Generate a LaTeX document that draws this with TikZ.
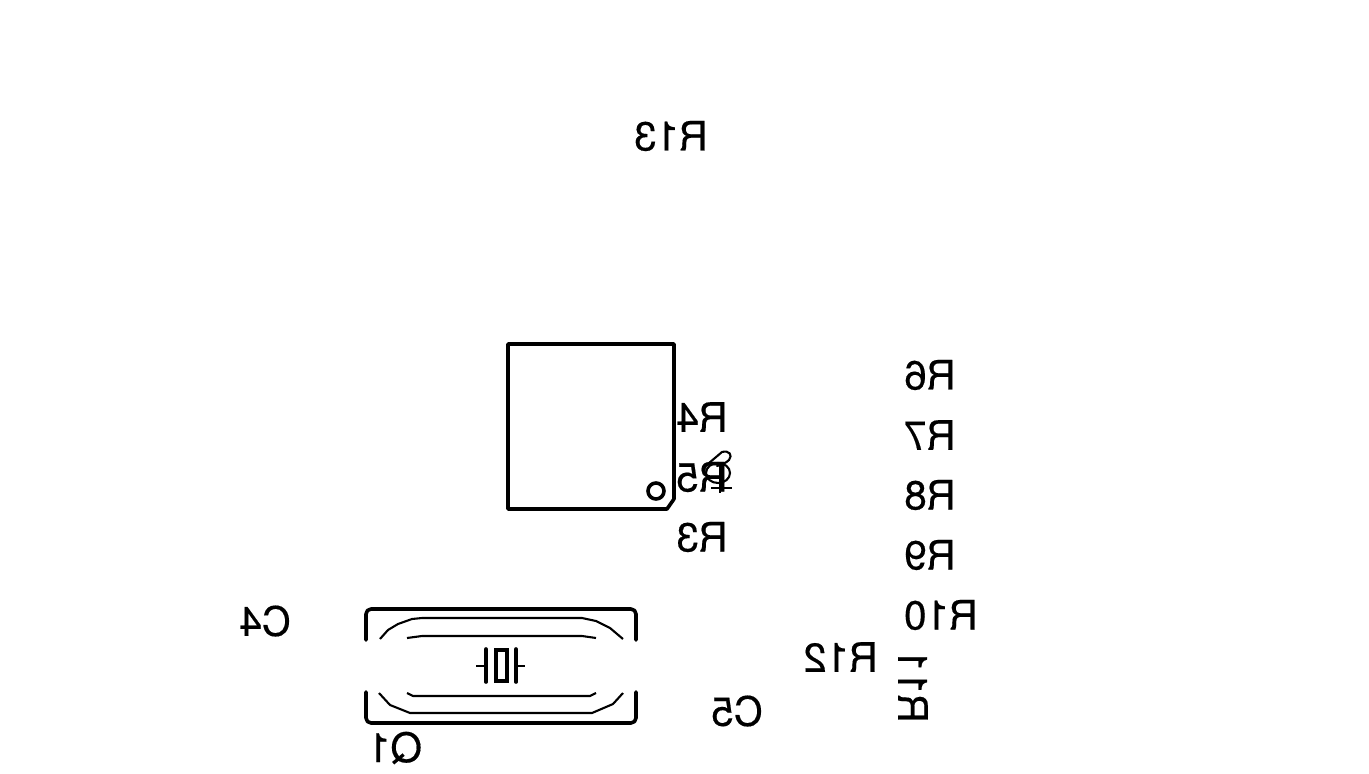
\documentclass[tikz,border=0pt]{standalone}
\usepackage{fontspec}
\setmainfont[FakeBold=0.4]{TeX Gyre Heros}
\usepackage{graphicx}
\tikzset{
refdes/.style={inner sep=0pt,font=\fontsize{40.6}{41}\selectfont},
heavy/.style={line width=3.6pt},
light/.style={line width=2.1pt},
outline/.style={heavy,line cap=round,line join=round},
courtyard/.style={light,line join=round},
}
\newcommand{\flip}[1]{\reflectbox{#1}}
\begin{document}
\begin{tikzpicture}[x=1pt,y=-1pt]
\useasboundingbox (0,0) rectangle (1369,774);

%Place the labels
\node[refdes] (R13) at (671,136) {\flip{R13}};
\foreach \j in {6, 7, 8, 9} {
	\pgfmathsetmacro{\jy}{375+60*(\j-6)}%
	\node[refdes] (R\j) at (930,\jy) {\flip{R\j}};
}
\node[refdes] (R10) at (941,615) {\flip{R10}};
\node[refdes] (R12) at (841,657) {\flip{R12}};
\node[refdes,rotate=-90] (R11) at (913,686) {\flip{R11}};
\node[refdes] (R4) at (702,417) {\flip{R4}};
\node[refdes] (R5) at (702,477) {\flip{R5}};
\node[refdes] (R3) at (702,537) {\flip{R3}};
\node[refdes] (C4) at (265,621) {\flip{C4}};
\node[refdes] (C5) at (737,711) {\flip{C5}};
\node[refdes] (Q1) at (395,748) {\flip{Q1}};

%
\draw[outline] (508,344) -- (674,344) -- (674,499) -- (667,509) -- (508,509) -- cycle;
\draw[outline] (656,491) circle (8);

%
\draw[light,line cap=round] (709,463) -- (722,452) .. controls (729,450) and (733,455) .. (729,460)
	.. controls (726,463) and (721,465) .. (717,466);
\draw[light] (718,473) ellipse (12 and 10);
\draw[light] (711,488) -- (732,488);
\draw[light] (720,462) -- (720,493);

%
\draw[outline,rounded corners=5pt] (366,640) -- (366,609) -- (636,609) -- (636,640);
\draw[outline,rounded corners=5pt] (366,692) -- (366,723) -- (636,723) -- (636,692);

%
\draw[courtyard] (380,639) -- (388,630) -- (398,624) -- (412,619) -- (422,618) -- (582,618) -- (596,621) -- (610,628) -- (623,639);
\draw[courtyard] (379,693) -- (390,705) -- (410,713) -- (592,713) -- (613,704) -- (623,693);
\draw[courtyard] (407,638) -- (422,636) -- (582,636) -- (596,638);
\draw[courtyard] (407,693) -- (413,696) -- (590,696) -- (596,693);

%
\draw[outline] (486,649) -- (486,682);
\draw[outline] (516,649) -- (516,682);
\draw[light] (476,666) -- (486,666);
\draw[light] (516,666) -- (525,666);
\draw[heavy] (496,650) rectangle (507,681);
\end{tikzpicture}
\end{document}
